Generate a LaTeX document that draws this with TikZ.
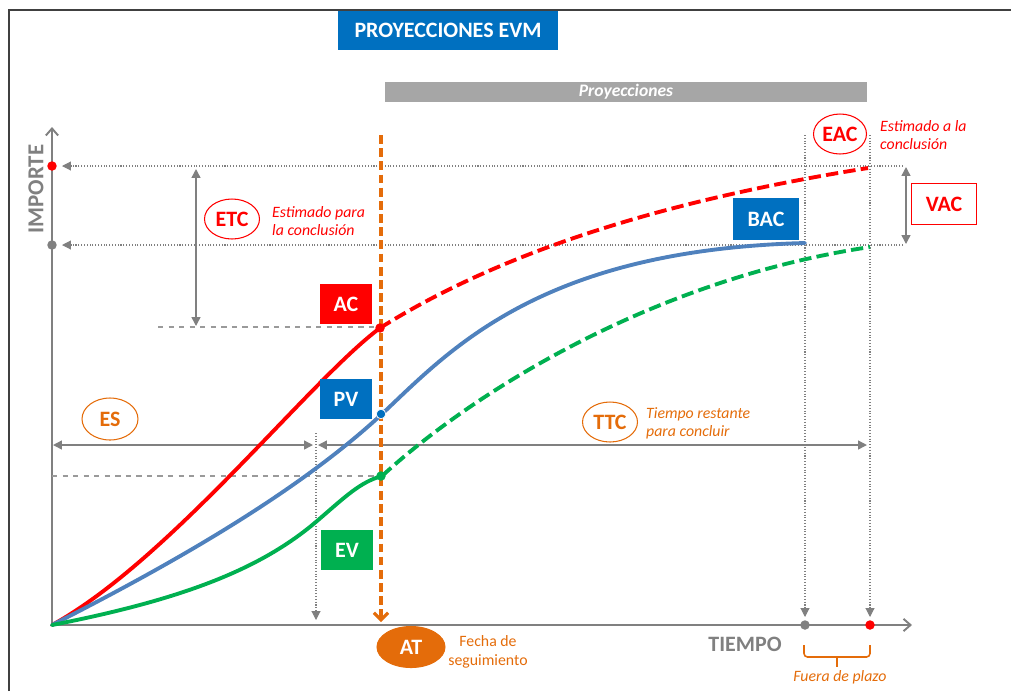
\documentclass[tikz,border=0pt]{standalone}
\usepackage{fontspec}
\setmainfont{Carlito}
\usetikzlibrary{arrows.meta,shapes.geometric}
\definecolor{evmblue}{HTML}{0070C0}
\definecolor{pvblue}{HTML}{4F81BD}
\definecolor{acred}{HTML}{FF0000}
\definecolor{evgreen}{HTML}{00B050}
\definecolor{atorange}{HTML}{E46C0A}
\definecolor{axgray}{HTML}{808080}
\definecolor{bargray}{HTML}{A6A6A6}
\definecolor{framegray}{HTML}{404040}

\begin{document}
\begin{tikzpicture}[x=0.02cm,y=-0.02cm,
  tag/.style={text=white,font=\fontsize{12.5}{14}\selectfont\bfseries,inner sep=0pt,minimum width=1.04cm,minimum height=0.8cm},
  oval/.style={ellipse,draw,line width=0.6pt,font=\fontsize{12.5}{14}\selectfont\bfseries,inner sep=0pt,minimum width=1.1cm,minimum height=0.8cm},
  note/.style={font=\fontsize{9}{10.3}\selectfont\itshape,align=left,anchor=west},
  guide/.style={axgray,densely dotted,line width=0.6pt},
  dimline/.style={axgray,line width=0.8pt},
  tri/.style={-{Triangle[length=5pt,width=5pt]}},
  curve/.style={line width=2.2pt,line cap=round},
  proj/.style={line width=2.2pt,dash pattern=on 7pt off 3pt},
  dot/.style={circle,inner sep=0pt,minimum size=0.19cm}]
  \useasboundingbox (0,0) rectangle (1011,691);
  \draw[framegray,line width=1.2pt] (9,691) -- (9,10) -- (1011,10);

  \node[fill=evmblue,text=white,font=\fontsize{12.5}{14}\selectfont\bfseries,inner sep=0pt,minimum width=4.4cm,minimum height=0.78cm] (title) at (448,30) {PROYECCIONES EVM};
  \node[fill=bargray,text=white,font=\fontsize{10}{12}\selectfont\bfseries\itshape,inner sep=0pt,minimum width=9.66cm,minimum height=0.4cm] (proy) at (626,92) {Proyecciones};

  % ejes
  \coordinate (O) at (52,625);
  \coordinate (ytop) at (52,127);
  \coordinate (xend) at (912,625);
  \draw[axgray,line width=1.1pt,-{Straight Barb[length=4pt,width=7pt]}] (O) -- (ytop);
  \draw[axgray,line width=1.1pt,-{Straight Barb[length=4pt,width=7pt]}] (O) -- (xend);
  \node[axgray,rotate=90,font=\fontsize{13}{15}\selectfont\bfseries] (importe) at (36,189) {IMPORTE};
  \node[axgray,font=\fontsize{12.5}{14}\selectfont\bfseries] (tiempo) at (745,644) {TIEMPO};

  % guias
  \node[dot,fill=acred] (eacdot) at (52,166) {};
  \node[dot,fill=axgray] (bacdot) at (52,245) {};
  \node[dot,fill=axgray] (plazo) at (805,625) {};
  \node[dot,fill=acred] (fin) at (870,625) {};
  \coordinate (eacr) at (903,166);
  \coordinate (bacr) at (903,245);
  \coordinate (eacl) at (62,166);
  \coordinate (bacl) at (62,245);
  \draw[guide,tri] (eacr) -- (eacl);
  \draw[guide,tri] (bacr) -- (bacl);
  \coordinate (plazotop) at (805,135);
  \coordinate (fintop) at (870,135);
  \draw[guide,tri] (plazotop) -- (805,617);
  \draw[guide,tri] (fintop) -- (870,617);
  \coordinate (acl) at (158,327);
  \coordinate (evl) at (52,476);
  \coordinate (estop) at (316,433);
  \draw[axgray!80,dashed,line width=0.6pt] (acl) -- (380,327);
  \draw[axgray!80,dashed,line width=0.6pt] (evl) -- (381,476);
  \draw[guide,tri] (estop) -- (316,620);

  % cotas
  \coordinate (etct) at (196,169);
  \coordinate (etcb) at (196,326);
  \draw[dimline,{Triangle[length=5pt,width=5pt]}-{Triangle[length=5pt,width=5pt]}] (etct) -- (etcb);
  \coordinate (vact) at (906,167);
  \coordinate (vacb) at (906,244);
  \draw[dimline,{Triangle[length=5pt,width=5pt]}-{Triangle[length=5pt,width=5pt]}] (vact) -- (vacb);
  \coordinate (esl) at (53,445);
  \coordinate (esr) at (313,445);
  \coordinate (ttcl) at (318,445);
  \coordinate (ttcr) at (867,445);
  \draw[dimline,{Triangle[length=5pt,width=5pt]}-{Triangle[length=5pt,width=5pt]}] (esl) -- (esr);
  \draw[dimline,{Triangle[length=5pt,width=5pt]}-{Triangle[length=5pt,width=5pt]}] (ttcl) -- (ttcr);

  % curvas
  \draw[curve,acred] (O) .. controls (170,560) and (310,380) .. (380,328);
  \draw[proj,acred] (380,328) .. controls (520,240) and (700,195) .. (868,168);
  \draw[curve,pvblue] (O) .. controls (180,560) and (300,490) .. (382,414)
    .. controls (450,350) and (540,250) .. (805,243);
  \draw[curve,evgreen] (O) .. controls (180,600) and (260,570) .. (317,521)
    .. controls (345,497) and (360,482) .. (382,476);
  \draw[proj,evgreen] (382,476) .. controls (470,395) and (650,280) .. (870,247);

  % fecha de seguimiento
  \coordinate (attop) at (381,135);
  \coordinate (atbot) at (381,622);
  \draw[atorange,line width=1.8pt,dash pattern=on 5pt off 2.5pt,-{Straight Barb[length=4pt,width=8pt]}] (attop) -- (atbot);
  \node[dot,fill=acred] (acdot) at (380,328) {};
  \node[dot,fill=evmblue,draw=white,line width=0.4pt] (pvdot) at (381,414) {};
  \node[dot,fill=evgreen] (evdot) at (381,476) {};

  % etiquetas
  \node[tag,fill=acred] (ac) at (346,304) {AC};
  \node[tag,fill=evmblue] (pv) at (346,399) {PV};
  \node[tag,fill=evgreen] (ev) at (347,550) {EV};
  \node[tag,fill=evmblue,minimum width=1.32cm,minimum height=0.84cm] (bac) at (766,219) {BAC};
  \node[tag,fill=white,draw=acred,line width=0.6pt,text=acred,minimum width=1.3cm,minimum height=0.82cm] (vac) at (944,204) {VAC};

  \node[oval,draw=acred,text=acred] (etc) at (232,219) {ETC};
  \node[note,text=acred] (etctxt) at (266,221) {Estimado para\\la conclusión};
  \node[oval,draw=acred,text=acred,minimum width=1.06cm] (eac) at (840,134) {EAC};
  \node[note,text=acred] (eactxt) at (874,135) {Estimado a la\\conclusión};
  \node[oval,draw=atorange,text=atorange,minimum width=1.12cm,minimum height=0.84cm] (es) at (110,419) {ES};
  \node[oval,draw=atorange,text=atorange] (ttc) at (610,422) {TTC};
  \node[note,text=atorange] (ttctxt) at (640,423) {Tiempo restante\\para concluir};
  \node[oval,fill=atorange,draw=atorange,text=white,minimum width=1.36cm,minimum height=0.82cm] (at) at (411,647) {AT};
  \node[text=atorange,font=\fontsize{9}{10.8}\selectfont,align=center] (fecha) at (488,652) {Fecha de\\seguimiento};

  % fuera de plazo
  \draw[atorange,line width=0.9pt,rounded corners=2pt] (804,645) -- (804,657) -- (870,657) -- (870,645);
  \draw[atorange,line width=0.9pt] (837,657) -- (837,667);
  \node[text=atorange,font=\fontsize{9}{11}\selectfont\itshape] (fuera) at (840,677) {Fuera de plazo};
\end{tikzpicture}
\end{document}
